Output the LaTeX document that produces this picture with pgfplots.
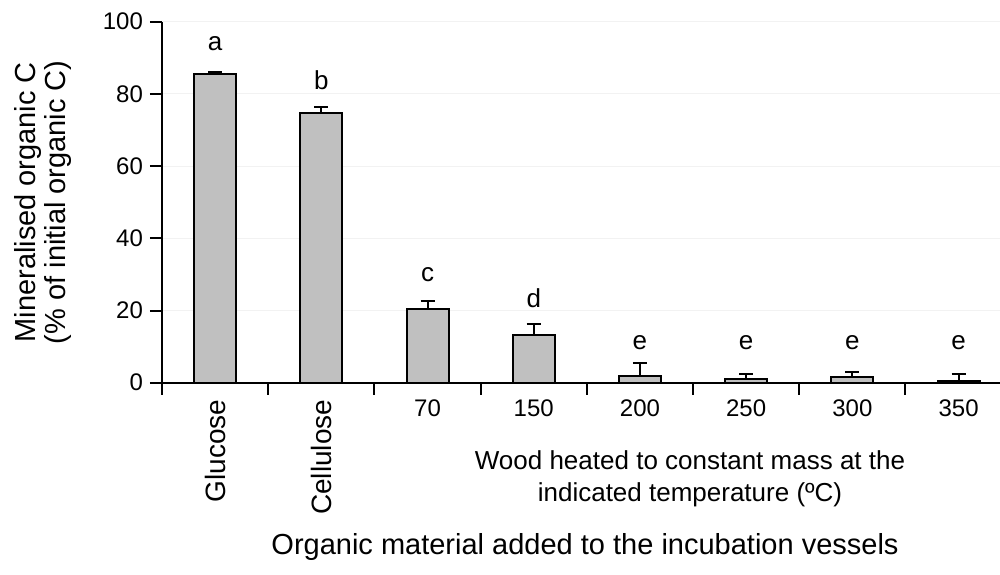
\documentclass[border=0pt]{standalone}
\usepackage{pgfplots}
\pgfplotsset{compat=1.18}
\usepackage{fontspec}
\setmainfont{Liberation Sans}
\definecolor{barfill}{RGB}{192,192,192}
\newcommand{\rot}[1]{\rotatebox{90}{\fontsize{14}{16}\selectfont #1}}
\begin{document}
\begin{tikzpicture}
\begin{pgfinterruptboundingbox}
\begin{axis}[
    scale only axis, width=419pt, height=180.5pt,
    xmin=-0.5, xmax=7.39, ymin=0, ymax=100,
    axis lines*=left, axis line style={line width=1pt},
    ybar, bar width=21pt,
    xtick={0,...,7},
    xticklabels={\rot{Glucose}, \rot{Cellulose}, 70, 150, 200, 250, 300, 350},
    minor xtick={-0.5,0.5,...,6.5},
    major x tick style={draw=none},
    minor tick length=6pt, major tick length=6pt,
    tick align=outside, tick style={line width=1pt, black},
    ytick={0,20,...,100},
    ymajorgrids, grid style={black!5, line width=0.5pt},
    ticklabel style={font=\fontsize{12}{14}\selectfont},
    xticklabel style={yshift=1pt},
    /pgf/number format/assume math mode=true,
    clip=false,
]
\addplot[draw=black, line width=1pt, fill=barfill,
    error bars/.cd, y dir=plus, y explicit,
    error bar style={line width=1pt, black},
    error mark options={rotate=90, mark size=3.5pt, line width=1pt, black}]
  coordinates {(0,85.5) +- (0,0.6) (1,74.6) +- (0,1.8) (2,20.3) +- (0,2.4)
    (3,13.2) +- (0,3.1) (4,1.9) +- (0,3.5) (5,0.9) +- (0,1.4)
    (6,1.5) +- (0,1.5) (7,0.5) +- (0,1.9)};
\coordinate (bl) at (rel axis cs:0,0);
\coordinate (tr) at (rel axis cs:1,1);
\begin{scope}[font=\fontsize{13}{15}\selectfont]
\node at (axis cs:0,94) {a};
\node at (axis cs:1,83.7) {b};
\node at (axis cs:2,29.8) {c};
\node at (axis cs:3,23.4) {d};
\node at (axis cs:4,11) {e};
\node at (axis cs:5,11) {e};
\node at (axis cs:6,11) {e};
\node at (axis cs:7,11) {e};
\end{scope}
\end{axis}
\end{pgfinterruptboundingbox}
\path[use as bounding box] ([shift={(-81pt,-96pt)}]bl) rectangle ([shift={(0pt,10.85pt)}]tr);
\node[rotate=90, align=center, font=\fontsize{14.5}{15}\selectfont]
  at ([shift={(-59.5pt,90.25pt)}]bl) {Mineralised organic C\\(\% of initial organic C)};
\node[align=center, font=\fontsize{13}{16}\selectfont]
  at ([shift={(264pt,-48pt)}]bl) {Wood heated to constant mass at the\\indicated temperature (ºC)};
\node[font=\fontsize{14.5}{16}\selectfont]
  at ([shift={(211.5pt,-82pt)}]bl) {Organic material added to the incubation vessels};
\end{tikzpicture}
\end{document}
